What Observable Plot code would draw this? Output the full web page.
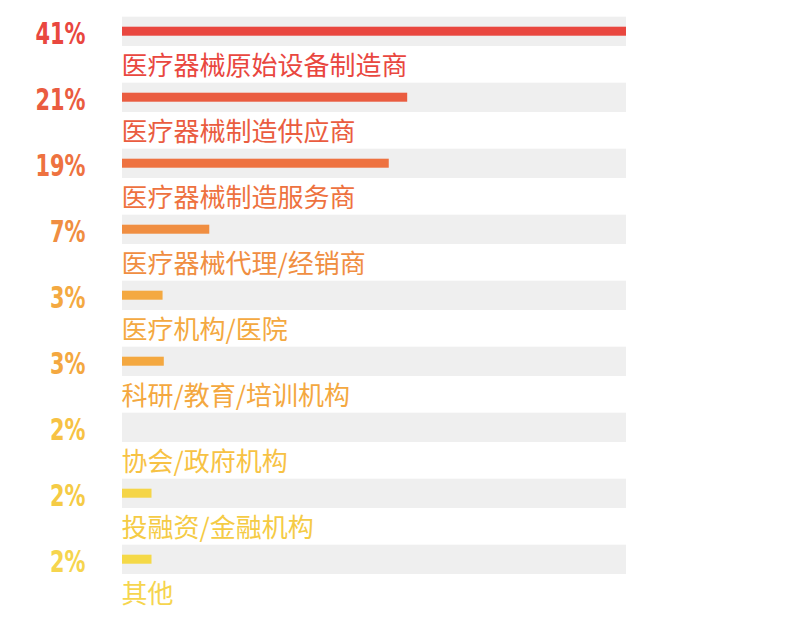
<!DOCTYPE html>
<html>
<head>
<meta charset="utf-8">
<script src="https://cdn.jsdelivr.net/npm/d3@7"></script>
<script src="https://cdn.jsdelivr.net/npm/@observablehq/plot@0.6"></script>
<style>
  html, body { margin: 0; padding: 0; background: #fff; }
  #chart svg { display: block; }
</style>
</head>
<body>
<div id="chart"></div>
<script>
const categories = ["医疗器械原始设备制造商", "医疗器械制造供应商", "医疗器械制造服务商", "医疗器械代理/经销商", "医疗机构/医院", "科研/教育/培训机构", "协会/政府机构", "投融资/金融机构", "其他"];
const pctLabels = ["41%", "21%", "19%", "7%", "3%", "3%", "2%", "2%", "2%"];
// bar lengths as drawn in the reference (percentage units)
const barLengths = [41, 23.2, 21.7, 7.1, 3.3, 3.4, 0, 2.4, 2.4];
const barColors = ["#E9473F", "#EA5C40", "#EE7240", "#F08E41", "#F4A941", "#F4A840", "#F7C244", "#F5D547", "#F5D947"];
const textColors = ["#E9473F", "#EA5C40", "#EE7240", "#F08E41", "#F4A941", "#F4A840", "#F7C244", "#F5CB45", "#F6D54E"];
const maxValue = 41;

const data = categories.map((c, i) => ({
  category: c, pct: pctLabels[i], len: barLengths[i],
  barColor: barColors[i], textColor: textColors[i]
}));

const chart = Plot.plot({
  width: 789,
  height: 622,
  margin: 0,
  x: { domain: [0, maxValue], range: [122, 626], axis: null },
  y: { domain: categories, range: [16.7, 574], paddingInner: 0.556, paddingOuter: 0, round: false, axis: null },
  style: { background: "#fff" },
  marks: [
    Plot.barX(data, { y: "category", x1: () => 0, x2: () => maxValue, fill: "#EFEFEF" }),
    Plot.barX(data.filter(d => d.len > 0), { y: "category", x1: () => 0, x2: "len", fill: "barColor", insetTop: 10, insetBottom: 10.3 }),
    Plot.text(data, {
      y: "category", x: () => 0, text: "category", fill: "textColor",
      textAnchor: "start", dx: -1, dy: 35,
      fontSize: 26, fontFamily: "'Noto Sans CJK SC', 'Noto Sans', sans-serif"
    }),
    Plot.text(data, {
      y: "category", frameAnchor: "left", text: "pct", fill: "textColor",
      textAnchor: "end", dx: 85, dy: 2,
      fontSize: 31, fontWeight: "bold",
      fontFamily: "'Liberation Sans Narrow', 'DejaVu Sans Condensed', sans-serif",
      className: "pct-label"
    })
  ]
});
// condense the percentage labels horizontally
d3.select(chart).selectAll(".pct-label text").each(function () {
  const t = this.getAttribute("transform") || "";
  this.setAttribute("transform", t + " scale(0.75,1)");
});
document.getElementById("chart").appendChild(chart);
</script>
</body>
</html>
